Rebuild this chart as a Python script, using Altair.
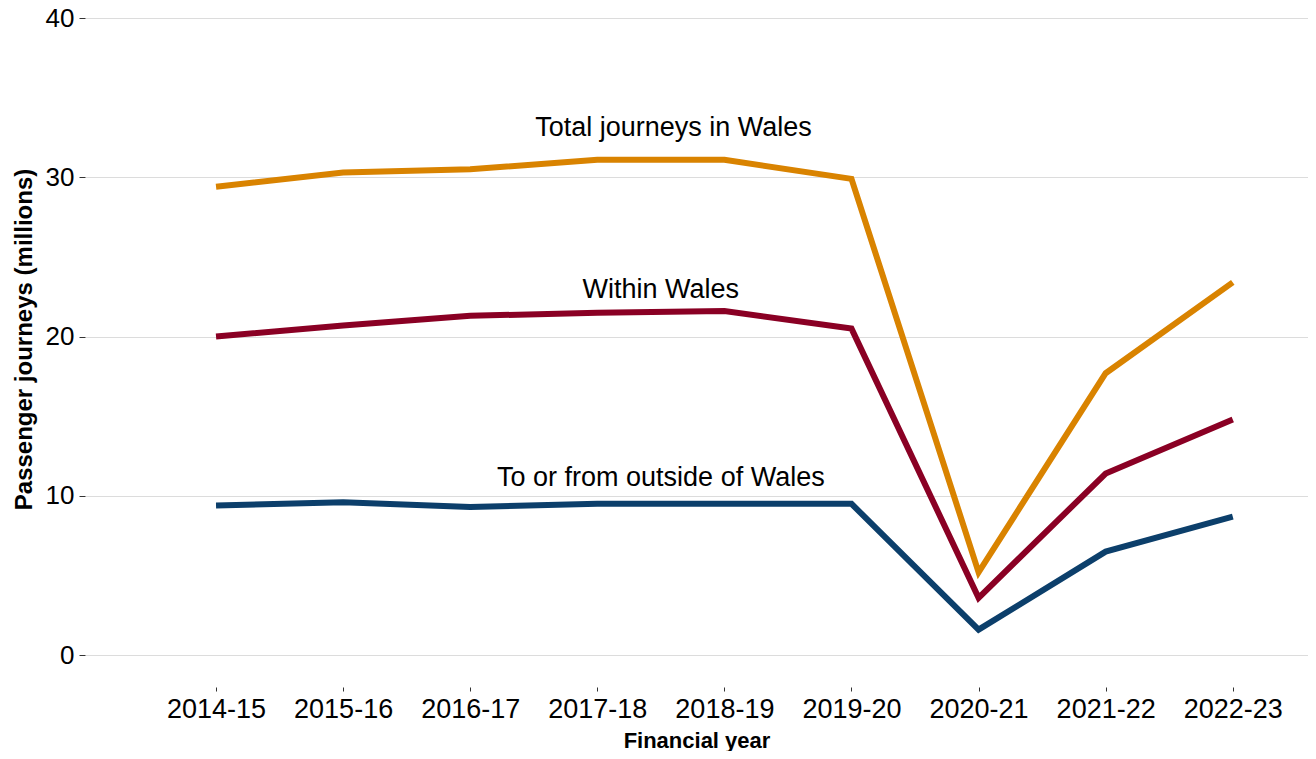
import altair as alt
import pandas as pd

years = ["2014-15", "2015-16", "2016-17", "2017-18", "2018-19", "2019-20", "2020-21", "2021-22", "2022-23"]
total = [29.4, 30.3, 30.5, 31.1, 31.1, 29.9, 5.2, 17.7, 23.4]
within = [20.0, 20.7, 21.3, 21.5, 21.6, 20.5, 3.6, 11.4, 14.8]
outside = [9.4, 9.6, 9.3, 9.5, 9.5, 9.5, 1.6, 6.5, 8.7]

series_names = ["Total journeys in Wales", "Within Wales", "To or from outside of Wales"]
series_colors = ["#D98300", "#8A0024", "#0C3F6B"]

label_x = [3.6, 3.5, 3.5]
label_y = [33.1, 22.9, 11.1]

rows = []
for name, vals in zip(series_names, [total, within, outside]):
    for i, (yr, v) in enumerate(zip(years, vals)):
        rows.append({"series": name, "idx": i, "year": yr, "value": v})
df = pd.DataFrame(rows)

labels_df = pd.DataFrame({"series": series_names, "x": label_x, "y": label_y})

label_expr = "[" + ",".join(f"'{y}'" for y in years) + "][datum.value]"

x_scale = alt.Scale(domain=[-1.031, 8.592], nice=False, zero=False)
y_scale = alt.Scale(domain=[-2, 40], nice=False)

FONT = "Liberation Sans"

lines = alt.Chart(df).mark_line(strokeWidth=6, strokeCap="butt", strokeJoin="miter").encode(
    x=alt.X("idx:Q", scale=x_scale,
            axis=alt.Axis(title="Financial year", values=list(range(len(years))), labelExpr=label_expr,
                          grid=False, domain=False, tickSize=4, tickColor="#333333", labelPadding=5,
                          labelFontSize=27, labelColor="black", titleFontSize=22, titleFontWeight="bold",
                          titleColor="black", titlePadding=8, labelFont=FONT, titleFont=FONT)),
    y=alt.Y("value:Q", scale=y_scale,
            axis=alt.Axis(title="Passenger journeys (millions)", values=[0, 10, 20, 30, 40],
                          grid=True, gridColor="#dcdcdc", domain=False, tickSize=6, tickColor="#333333",
                          labelPadding=5, labelFontSize=26, labelColor="black", titleFontSize=24,
                          titleFontWeight="bold", titleColor="black", titlePadding=9, titleY=321,
                          labelFont=FONT, titleFont=FONT)),
    color=alt.Color("series:N", scale=alt.Scale(domain=series_names, range=series_colors), legend=None),
    detail="series:N",
)

texts = alt.Chart(labels_df).mark_text(fontSize=27, font=FONT, color="black", baseline="middle").encode(
    x=alt.X("x:Q", scale=x_scale),
    y=alt.Y("y:Q", scale=y_scale),
    text="series:N",
)

chart = (lines + texts).properties(
    width=1223, height=669,
    autosize=alt.AutoSizeParams(type="none"),
    padding={"left": 77, "top": 10, "right": 0, "bottom": 64},
).configure_view(stroke=None)

chart.save("out.html", embed_options={"renderer": "svg", "actions": False})
